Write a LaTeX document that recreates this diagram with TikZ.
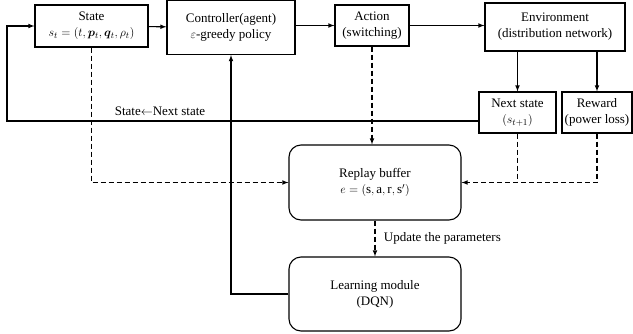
\documentclass[tikz,border=0pt]{standalone}
\usepackage{fontspec}
\setmainfont{Liberation Serif}
\usepackage{amsmath}
\usepackage{bm}
\usepackage{tikz}
\usetikzlibrary{arrows.meta}

\begin{document}
\begin{tikzpicture}[x=1pt,y=-1pt,line width=1.1pt,
  box/.style = {draw,align=center,inner sep=1pt},
  rbox/.style = {box,rounded corners=12pt},
  dashline/.style = {dash pattern=on 5pt off 3pt}]
 \fontsize{13}{16}\selectfont
 \useasboundingbox (0,0) rectangle (633,333);
 \node[box,minimum width=113,minimum height=42] (state) at(91.5,26)
   {State\\ $s_t=(t,\bm{p}_t,\bm{q}_t,\rho_t)$};
 \node[box,minimum width=128,minimum height=54] (ctrl) at(231,27.5)
   {Controller(agent)\\ $\varepsilon$-greedy policy};
 \node[box,minimum width=74,minimum height=41] (action) at(372,25.5)
   {Action\\ (switching)};
 \node[box,minimum width=140,minimum height=48] (env) at(555,27)
   {Environment\\ (distribution network)};
 \node[box,minimum width=77,minimum height=41] (next) at(517.5,112.5)
   {Next state\\ $(s_{t+1})$};
 \node[box,minimum width=70,minimum height=41] (reward) at(597,112.5)
   {Reward\\ (power loss)};
 \node[rbox,minimum width=172,minimum height=75] (replay) at(375,182.5)
   {Replay buffer\\ $e=(\mathrm{s},\mathrm{a},\mathrm{r},\mathrm{s}')$};
 \node[rbox,minimum width=172,minimum height=74] (learn) at(375,294)
   {Learning module\\ (DQN)};

 \coordinate (loop) at (7,121);
 \node (upd) at (160,111) {State$\leftarrow$Next state};

 \begin{scope}[-latex]
  \draw (state) -- (ctrl);
  \draw (ctrl.east |- action.west) -- (action.west);
  \draw (action.east) -- (action.east -| env.west);
  \draw (next |- env.south) -- (next.north);
  \draw (reward |- env.south) -- (reward.north);
  \draw ([yshift=-8.5pt]next.west) -- (loop) |- (state.west);
  \draw (learn.west) -| (ctrl.south);
 \end{scope}

 \begin{scope}[dashline]
  \draw[-latex] (state.south) |- (replay.west);
  \draw[-latex] (action.south) -- (action.south |- replay.north);
  \draw (next.south) -- (next.south |- replay.east);
  \draw[-latex] (reward.south) |- (replay.east);
  \draw[-latex] (replay.south) -- node[right=4pt] {Update the parameters} (learn.north);
 \end{scope}
\end{tikzpicture}
\end{document}
